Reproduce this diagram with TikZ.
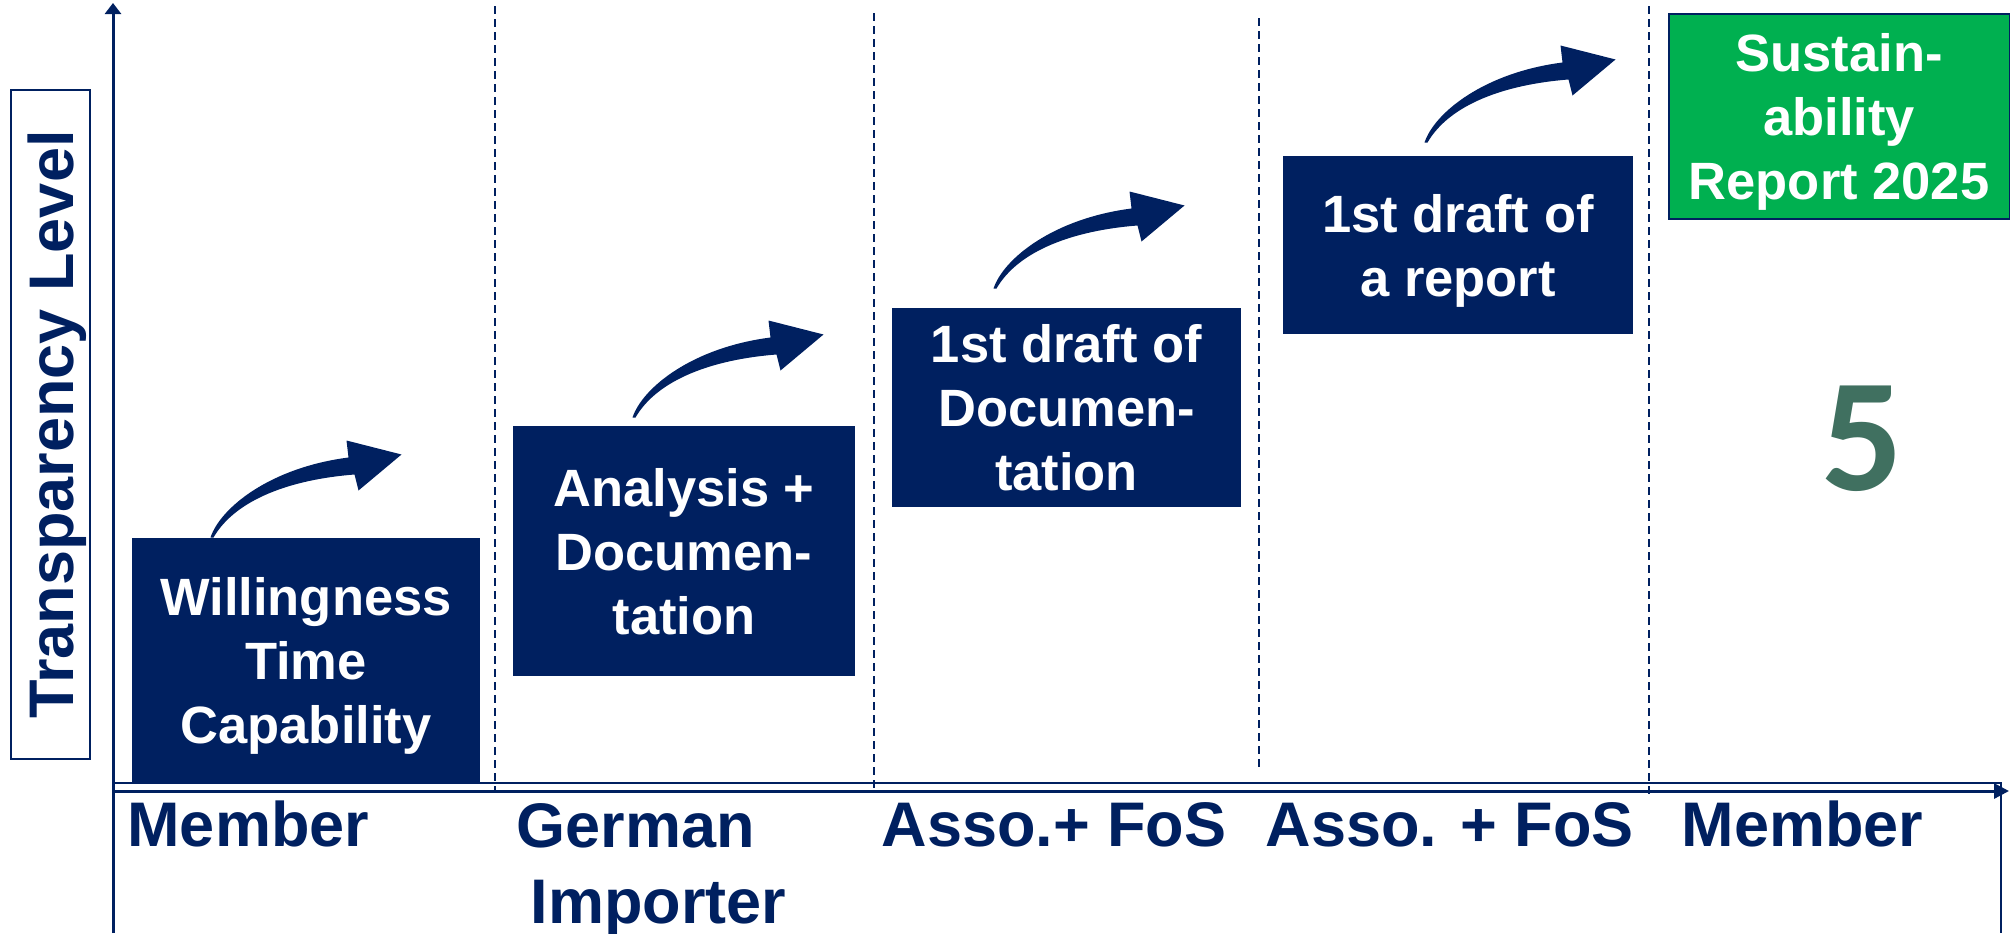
\documentclass[tikz,border=0pt]{standalone}
\usepackage{fontspec}
\setmainfont{Liberation Sans}
\newfontfamily\digitfont{Carlito}
\usepackage{tikz}
\usetikzlibrary{calc}
\usetikzlibrary{arrows.meta}
\definecolor{navy}{RGB}{0,32,96}
\definecolor{reportgreen}{RGB}{0,176,80}
\definecolor{levelgreen}{RGB}{64,112,96}
\tikzset{stepbox/.style={fill=navy,text=white,align=center,inner sep=0pt,text depth=0pt,font=\fontsize{21}{25.6}\selectfont\bfseries}}
\tikzset{actor/.style={text=navy,inner sep=0pt,anchor=base west,font=\fontsize{25.2}{30}\selectfont\bfseries}}
\tikzset{divider/.style={navy,line width=0.8pt,dash pattern=on 3.2pt off 2pt}}
\tikzset{bendarrow/.pic={
	\fill[navy] (0,0) .. controls (10,-30) and (60,-70) .. (138,-80) -- (136,-97) -- (191,-83)
		-- (148,-47) -- (144,-63) .. controls (80,-58) and (25,-38) .. (3,0) -- cycle;
}}

\begin{document}
\begin{tikzpicture}[x=0.4pt,y=-0.4pt]
\useasboundingbox (0,0) rectangle (2010,933);

% axes
\coordinate (origin) at (113,791);
\coordinate (ytop) at (113,3);
\coordinate (ybot) at (113,933);
\coordinate (xend) at (2009,791);
\draw[navy,line width=1.2pt,-{Triangle[width=6.4pt,length=4.4pt]}] (ybot) -- (ytop);
\draw[navy,line width=1.2pt,-{Triangle[width=6pt,length=6pt]}] (origin) -- (xend);
\draw[navy,line width=0.8pt] (113,783) -- (2001,783) -- (2001,933);

\foreach \x/\a/\b in {495/6/791, 874/13/791, 1259/18/768, 1649/6/797} {
	\draw[divider] (\x,\a) -- (\x,\b);
}

\node[draw=navy,line width=0.8pt,rotate=90,minimum width=267.6pt,minimum height=31.6pt,inner sep=0pt,
	text depth=0pt,text=navy,font=\fontsize{25.2}{30}\selectfont\bfseries] (tlevel) at (50.5,424.5) {Transparency Level};

% steps
\node[stepbox,minimum width=139.2pt,minimum height=98pt] (s1) at (306,660.5) {Willingness\\Time\\Capability};
\node[stepbox,minimum width=136.8pt,minimum height=100pt] (s2) at (684,551) {Analysis +\\Documen-\\tation};
\node[stepbox,minimum width=139.6pt,minimum height=79.6pt] (s3) at (1066.5,407.5) {1st draft of\\Documen-\\tation};
\node[stepbox,minimum width=140pt,minimum height=71.2pt] (s4) at (1458,245) {1st draft of\\a report};
\node[stepbox,fill=reportgreen,draw=navy,line width=0.8pt,minimum width=136.4pt,minimum height=82pt] (s5) at (1839,116.5) {Sustain-\\ability\\Report 2025};

\foreach \s/\dx/\dy in {s1/79/0, s2/120/-8, s3/102/-19, s4/142/-13} {
	\pic at ($ (\s.north west) + (\dx,\dy) $) {bendarrow};
}

\node[text=levelgreen,inner sep=0pt,font=\fontsize{64.5}{70}\selectfont\digitfont\bfseries] (lvl) at (1862,439) {5};

% who
\node[actor] (a1) at (127,846) {Member};
\node[actor] (a2) at (516,847) {German};
\node[actor] (a2b) at (530,923) {Importer};
\node[actor] (a3) at (881,846) {Asso.+ FoS};
\node[actor] (a4) at (1265,846) {Asso. + FoS};
\node[actor] (a5) at (1681,846) {Member};
\end{tikzpicture}
\end{document}
